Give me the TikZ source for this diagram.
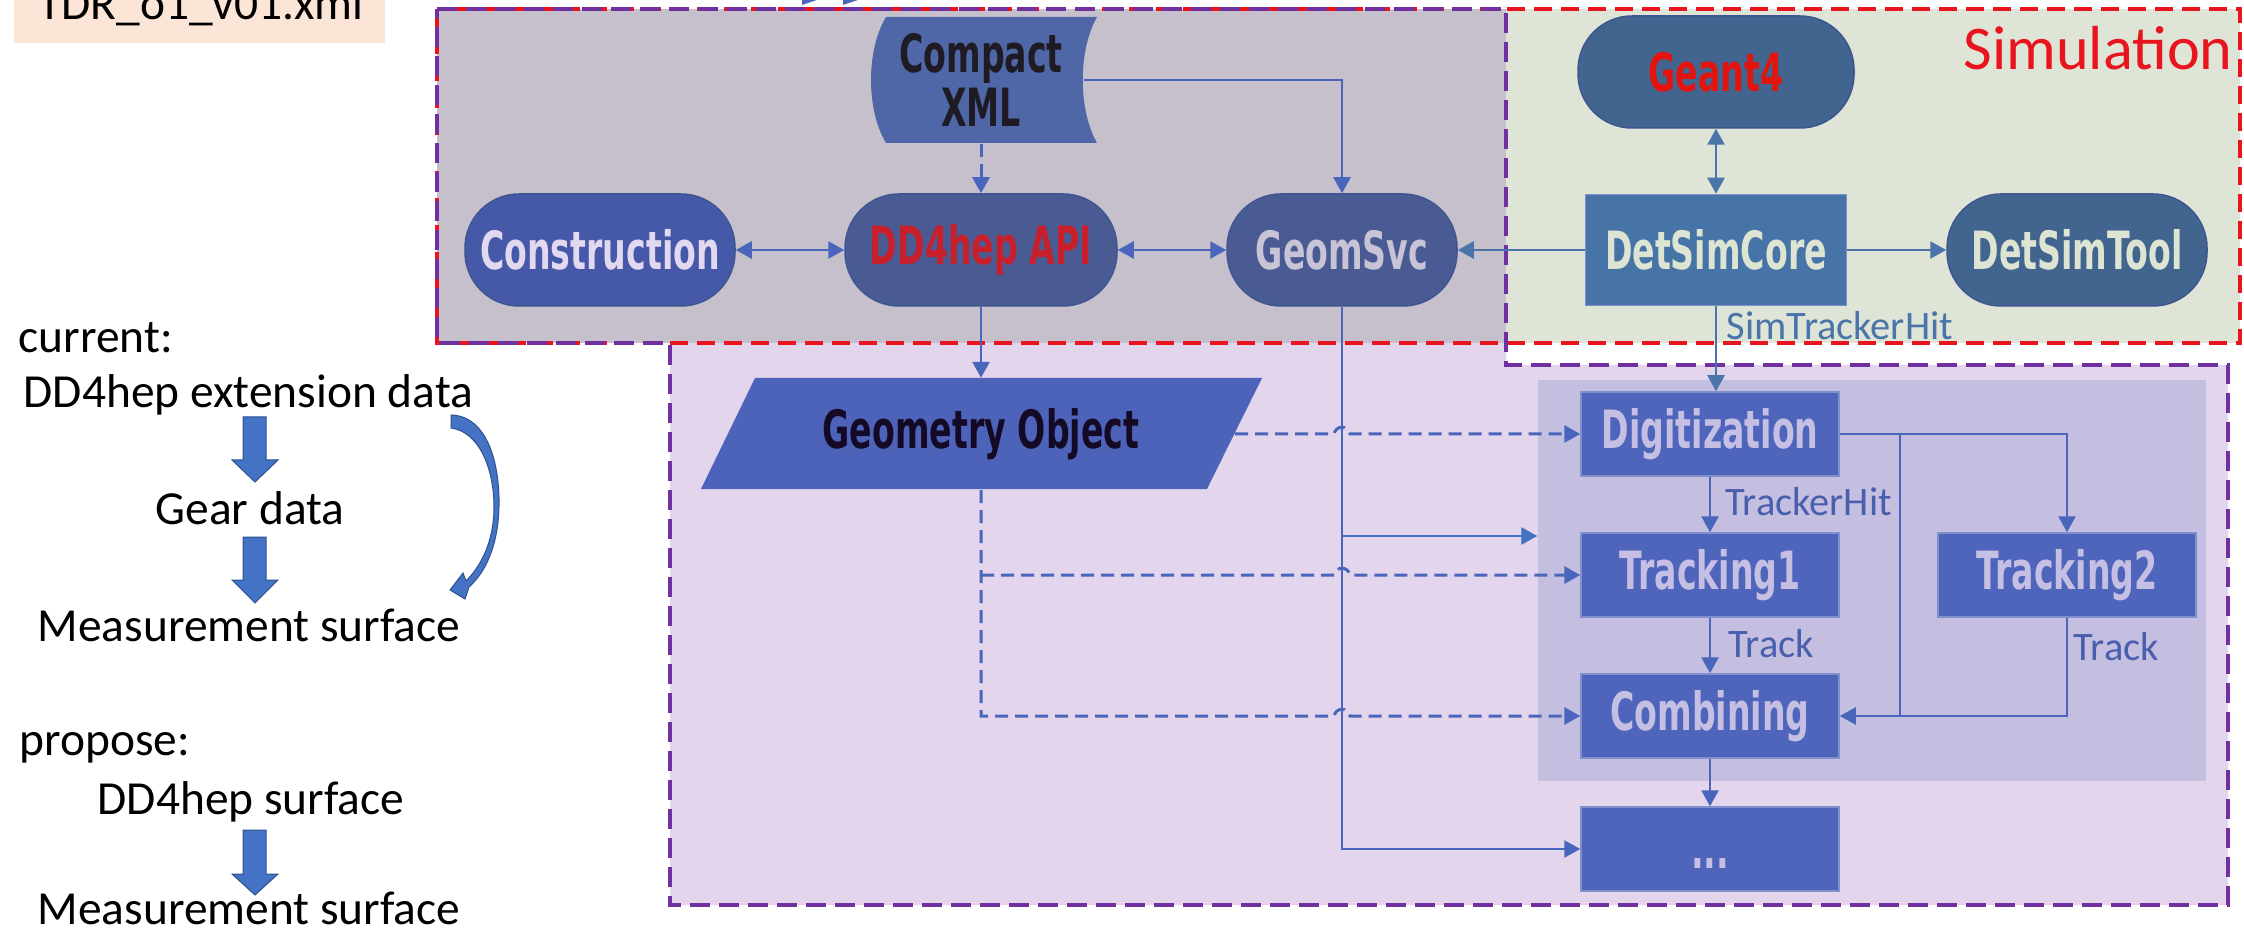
\documentclass[tikz,border=0pt]{standalone}
\usepackage{fontspec}
\setmainfont{Carlito}
\newfontfamily\boxfont[FakeStretch=0.63]{DejaVu Sans}
\usetikzlibrary{arrows.meta}

\definecolor{geogray}{HTML}{C5C0CC}
\definecolor{simgreen}{HTML}{DEE4D6}
\definecolor{recopurple}{HTML}{E2D5EC}
\definecolor{pipefill}{HTML}{C4BEE0}
\definecolor{simred}{HTML}{E8141E}
\definecolor{dashpurple}{HTML}{7030A0}
\definecolor{consfill}{HTML}{4659A8}
\definecolor{constext}{HTML}{E2D8EF}
\definecolor{apifill}{HTML}{4A5B94}
\definecolor{apitext}{HTML}{C8202A}
\definecolor{geomtext}{HTML}{C8C3D5}
\definecolor{xmlfill}{HTML}{4F67A6}
\definecolor{xmltext}{HTML}{1F1B24}
\definecolor{simfill}{HTML}{41658F}
\definecolor{g4red}{HTML}{E3140E}
\definecolor{simtext}{HTML}{DDE5D2}
\definecolor{corefill}{HTML}{4674A6}
\definecolor{geofill}{HTML}{4D63BA}
\definecolor{geotext}{HTML}{150A25}
\definecolor{procfill}{HTML}{4E65BB}
\definecolor{proctext}{HTML}{C5BFE3}
\definecolor{procline}{HTML}{8090CC}
\definecolor{pillline}{HTML}{3F5590}
\definecolor{connblue}{HTML}{4A66BC}
\definecolor{simblue}{HTML}{4A74AA}
\definecolor{branchblue}{HTML}{4472C4}
\definecolor{lblblue}{HTML}{4A5EAE}
\definecolor{blkfill}{HTML}{4472C4}
\definecolor{blkline}{HTML}{2F528F}
\definecolor{tdrfill}{HTML}{FBE5D6}

\newcommand\boxtext{\boxfont\bfseries\fontsize{15}{15.6}\selectfont}

\tikzset{
  pill/.style={fill=#1, draw=pillline, line width=0.15mm, rounded corners=5.4mm,
    minimum height=11.2mm, inner sep=0pt, font=\boxtext},
  procbox/.style={fill=procfill, draw=procline, line width=0.15mm, minimum width=25.8mm,
    minimum height=8.4mm, inner sep=0pt, font=\boxtext, text=proctext},
  conn/.style={draw=connblue, line width=0.25mm, -{Triangle[length=1.6mm,width=1.7mm]}},
  twoway/.style={conn, {Triangle[length=1.6mm,width=1.7mm]}-{Triangle[length=1.6mm,width=1.7mm]}},
  dconn/.style={conn, line width=0.3mm, dash pattern=on 1.3mm off 0.7mm},
  lbl/.style={font=\fontsize{11.5}{13}\selectfont, text=lblblue, inner sep=0pt, anchor=base west},
  plain/.style={font=\fontsize{13.5}{16}\selectfont, inner sep=0pt, anchor=base west},
  blk/.style={fill=blkfill, draw=blkline, line width=0.1mm},
}

\begin{document}
\begin{tikzpicture}[x=0.1mm, y=-0.1mm]
  \useasboundingbox (0,0) rectangle (2244,932);

  % regions
  \fill[geogray] (437,9) rectangle (1506,343);
  \fill[simgreen] (1506,9) rectangle (2240,343);
  \fill[recopurple] (670,343) -- (1506,343) -- (1506,365) -- (2228,365) -- (2228,905) -- (670,905) -- cycle;
  \draw[simred, line width=0.45mm, dash pattern=on 1.8mm off 0.9mm] (437,9) rectangle (2240,343);
  \draw[dashpurple, line width=0.45mm, dash pattern=on 2mm off 0.9mm]
    (437,9) -- (1506,9) -- (1506,365) -- (2228,365) -- (2228,905) -- (670,905) -- (670,343) -- (437,343) -- cycle;
  \node[fill=pipefill, minimum width=66.8mm, minimum height=40.1mm, inner sep=0pt] (pipe) at (1872,580) {};

  \node[font=\fontsize{17.7}{20}\selectfont, text=simred, inner sep=0pt, anchor=base west] (simtitle) at (1963,70) {Simulation};

  % geometry side
  \fill[xmlfill] (886,17) -- (1097,17) .. controls (1078,50) and (1078,110) .. (1097,143)
    -- (886,143) .. controls (866,110) and (866,50) .. (886,17) -- cycle;
  \node[minimum width=20.4mm, minimum height=12.6mm, inner sep=0pt, align=center, font=\boxtext, text=xmltext] (xml) at (981,80) {Compact\\XML};
  \node[pill=consfill, minimum width=27mm, text=constext] (cons) at (600,250) {Construction};
  \node[pill=apifill, minimum width=27.2mm, text=apitext] (api) at (981,250) {DD4hep API};
  \node[pill=apifill, minimum width=23mm, text=geomtext] (geom) at (1342,250) {GeomSvc};
  \fill[geofill] (701,489) -- (1207,489) -- (1262,378) -- (755,378) -- cycle;
  \node[minimum width=50.7mm, minimum height=11.1mm, inner sep=0pt, font=\boxtext, text=geotext] (geo) at (981,434) {Geometry Object};

  % simulation side
  \node[pill=simfill, minimum width=27.6mm, text=g4red] (g4) at (1716,72) {Geant4};
  \node[fill=corefill, draw=procline, line width=0.15mm, minimum width=26.1mm, minimum height=11.1mm,
    inner sep=0pt, font=\boxtext, text=simtext] (core) at (1716,250) {DetSimCore};
  \node[pill=simfill, minimum width=26mm, text=simtext] (tool) at (2077,250) {DetSimTool};

  % reconstruction chain
  \node[procbox] (digi) at (1710,434) {Digitization};
  \node[procbox] (trk1) at (1710,575) {Tracking1};
  \node[procbox] (comb) at (1710,716) {Combining};
  \node[procbox] (dots) at (1710,849) {\vphantom{D}...};
  \node[procbox] (trk2) at (2067,575) {Tracking2};

  \node[lbl, text=simblue] (simhitlbl) at (1726,340) {SimTrackerHit};
  \node[lbl] (hitlbl) at (1725,515) {TrackerHit};
  \node[lbl] (trklbl) at (1728,657) {Track};
  \node[lbl] (trk2lbl) at (2073,660) {Track};

  % connectors
  \draw[dconn] (xml.south) -- (api.north);
  \draw[conn] (xml.east) -| (geom.north);
  \draw[twoway] (cons) -- (api);
  \draw[twoway] (api) -- (geom);
  \draw[conn, draw=simblue] (core) -- (geom);
  \draw[twoway, draw=simblue] (g4) -- (core);
  \draw[conn, draw=simblue] (core) -- (tool);
  \draw[conn, draw=simblue] (core.south) -- (core.south |- digi.north);
  \draw[conn] (api) -- (geo);

  \draw[conn] (geom.south) |- (dots.west);
  \coordinate (tap) at (1342,536);
  \draw[conn, draw=branchblue] (tap) -- (pipe.west |- tap);

  \draw[dconn] (geo.east) -- (1334,434) .. controls (1336,425) and (1348,425) .. (1350,434) -- (digi.west);
  \draw[dconn] (geo.south |- trk1.west) -- (1334,575) .. controls (1336,566) and (1348,566) .. (1350,575) -- (trk1.west);
  \draw[dconn] (geo.south) |- (1334,716) .. controls (1336,707) and (1348,707) .. (1350,716) -- (comb.west);

  \draw[conn] (digi) -- (trk1);
  \draw[conn] (trk1) -- (comb);
  \draw[conn] (comb) -- (dots);
  \draw[conn] (digi.east) -| (trk2.north);
  \coordinate (split) at (1900,434);
  \draw[conn] (split) |- (comb.east);
  \draw[connblue, line width=0.25mm] (trk2.south) |- (split |- comb.east);

  % top edge
  \fill[tdrfill] (14,-30) rectangle (385,43);
  \node[font=\fontsize{13.5}{16}\selectfont, inner sep=0pt, anchor=base] (tdr) at (201,20) {TDR\_o1\_v01.xml};
  \fill[connblue] (802,0) -- (817,0) -- (802,5) -- cycle;
  \fill[connblue] (843,0) -- (858,0) -- (843,5) -- cycle;

  % left notes
  \node[plain] (cur) at (18,353) {current:};
  \node[plain] (ext) at (23,408) {DD4hep extension data};
  \node[plain] (gear) at (155,525) {Gear data};
  \node[plain] (meas) at (37,641) {Measurement surface};
  \node[plain] (prop) at (19,755) {propose:};
  \node[plain] (ddsurf) at (97,814) {DD4hep surface};
  \node[plain] (meas2) at (37,924) {Measurement surface};

  \filldraw[blk] (243,417) -- (266,417) -- (266,460) -- (278,460) -- (255,482) -- (232,460) -- (243,460) -- cycle;
  \filldraw[blk] (243,537) -- (266,537) -- (266,580) -- (278,580) -- (255,603) -- (232,580) -- (243,580) -- cycle;
  \filldraw[blk] (243,830) -- (266,830) -- (266,874) -- (278,874) -- (255,895) -- (232,874) -- (243,874) -- cycle;
  \filldraw[blk] (451,415) .. controls (488,416) and (500,465) .. (499,507)
    .. controls (498,545) and (486,572) .. (469,587) -- (465,599) -- (450,590) -- (463,573) -- (466,581)
    .. controls (482,565) and (494,540) .. (494,507) .. controls (494,470) and (480,432) .. (451,428) -- cycle;
\end{tikzpicture}
\end{document}
